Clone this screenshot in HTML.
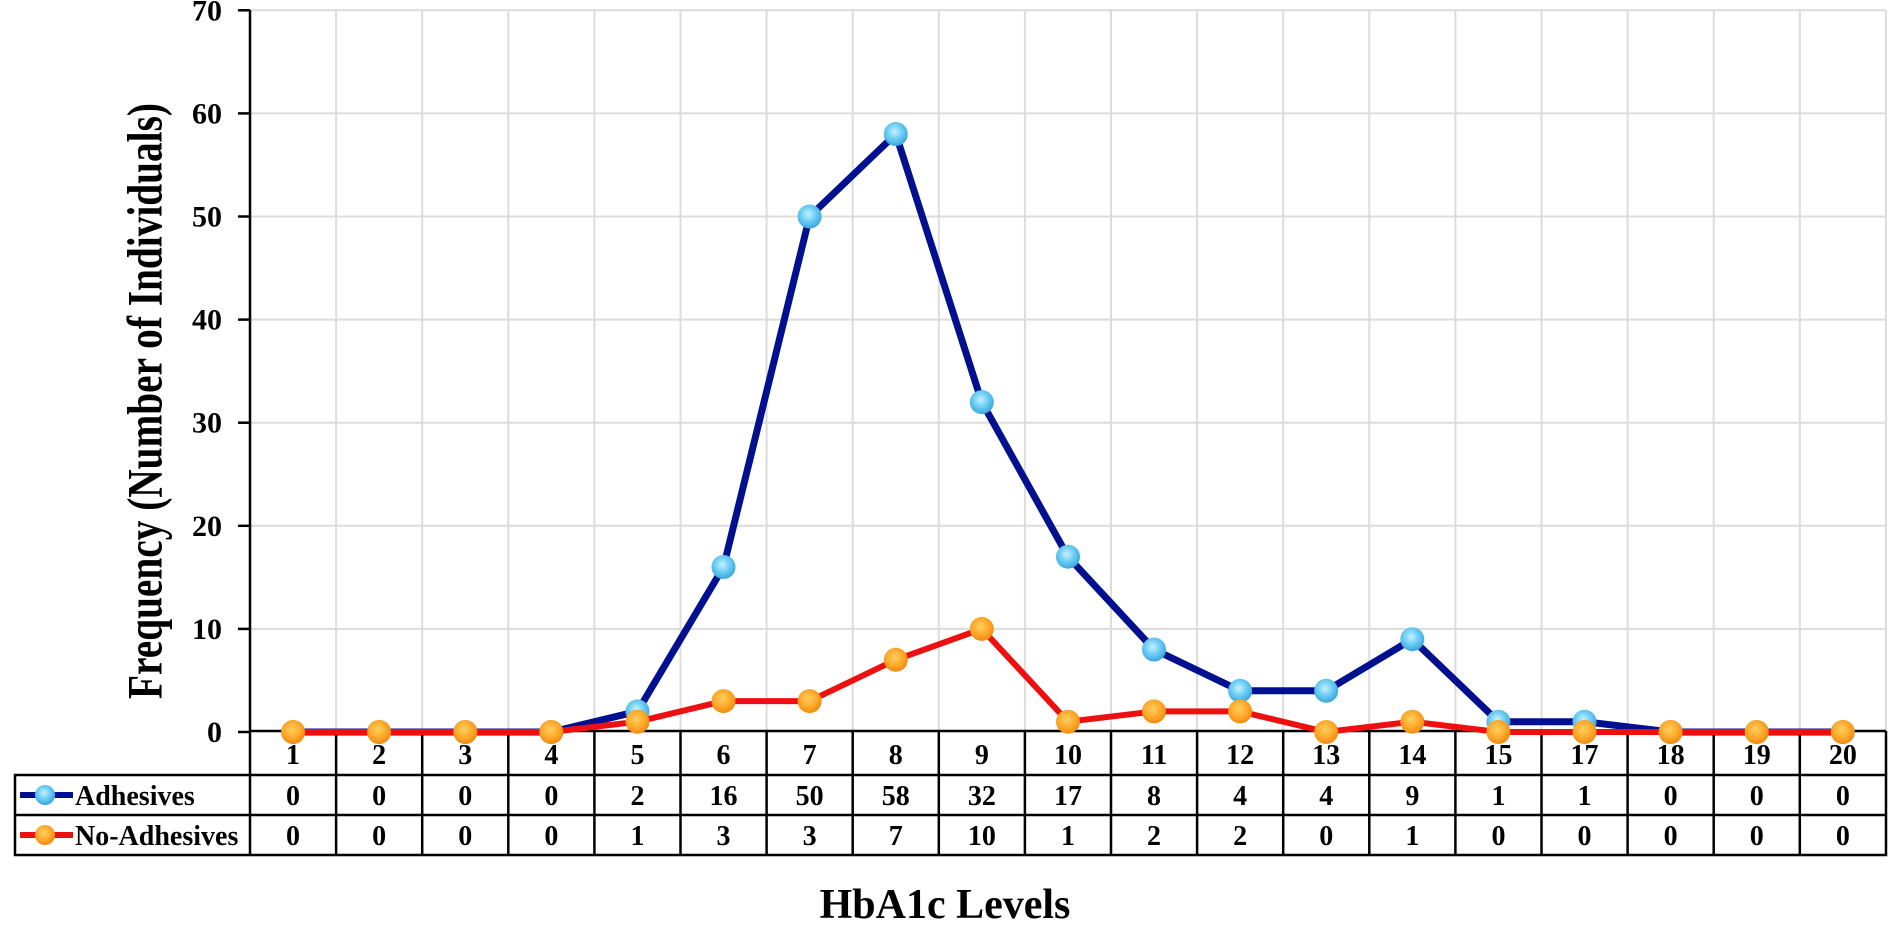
<!DOCTYPE html>
<html><head><meta charset="utf-8"><style>
html,body{margin:0;padding:0;background:#fff;}
svg{display:block;}
text{font-family:"Liberation Serif",serif;font-weight:bold;fill:#000;}
</style></head><body>
<svg width="1890" height="930" viewBox="0 0 1890 930" xmlns="http://www.w3.org/2000/svg">
<defs>
<radialGradient id="gb" cx="45%" cy="40%" r="60%"><stop offset="0" stop-color="#c8f0ff"/><stop offset="0.5" stop-color="#6fcff5"/><stop offset="1" stop-color="#3aa6dc"/></radialGradient>
<radialGradient id="go" cx="45%" cy="40%" r="60%"><stop offset="0" stop-color="#ffd060"/><stop offset="0.6" stop-color="#ffa82a"/><stop offset="1" stop-color="#f08a10"/></radialGradient>
</defs>
<g id="grid" stroke="#dcdcdc" stroke-width="2"></g>
<line x1="250" y1="10" x2="250" y2="732" stroke="#000" stroke-width="2.5"/>
<g id="yt"></g>
<text x="150" y="401" font-size="50" text-anchor="middle" textLength="596" lengthAdjust="spacingAndGlyphs" transform="rotate(-90 150 401)" dominant-baseline="middle">Frequency (Number of Individuals)</text>
<g id="tbl" stroke="#000" stroke-width="2.5" fill="none"></g>
<g id="tt"></g>
<g id="series"></g>
<text x="945" y="918" font-size="42" text-anchor="middle">HbA1c Levels</text>
<line x1="20" y1="795" x2="73" y2="795" stroke="#00108f" stroke-width="6"/>
<circle cx="45" cy="795" r="10" fill="url(#gb)"/>
<text x="75" y="805" font-size="28">Adhesives</text>
<line x1="20" y1="835" x2="73" y2="835" stroke="#ee1010" stroke-width="6"/>
<circle cx="45" cy="835" r="10" fill="url(#go)"/>
<text x="75" y="845" font-size="28">No-Adhesives</text>
</svg>
<script>
const NS="http://www.w3.org/2000/svg";
function el(p,t,a,txt){const e=document.createElementNS(NS,t);for(const k in a)e.setAttribute(k,a[k]);if(txt!==undefined)e.textContent=txt;document.getElementById(p).appendChild(e);return e;}
const x0=250,w=86.1,y0=732,s=10.31;
const cats=[1,2,3,4,5,6,7,8,9,10,11,12,13,14,15,17,18,19,20];
const A=[0,0,0,0,2,16,50,58,32,17,8,4,4,9,1,1,0,0,0];
const N=[0,0,0,0,1,3,3,7,10,1,2,2,0,1,0,0,0,0,0];
for(let v=10;v<=70;v+=10){const y=y0-v*s;el('grid','line',{x1:x0,y1:y,x2:1886,y2:y});}
for(let k=1;k<=19;k++){const x=x0+k*w;el('grid','line',{x1:x,y1:10,x2:x,y2:y0});}
for(let v=0;v<=70;v+=10){const y=y0-v*s;el('yt','line',{x1:238,y1:y,x2:250,y2:y,stroke:'#000','stroke-width':2.5});el('yt','text',{x:222,y:y+10,'font-size':30,'text-anchor':'end'},String(v));}
// table
el('tbl','rect',{x:15,y:775,width:1871,height:80});
el('tbl','line',{x1:250,y1:731,x2:1886,y2:731});
el('tbl','line',{x1:1886,y1:731,x2:1886,y2:775});
el('tbl','line',{x1:15,y1:815,x2:1886,y2:815});
for(let k=0;k<19;k++){const x=x0+k*w;el('tbl','line',{x1:x,y1:731,x2:x,y2:855});}
cats.forEach((c,i)=>{const cx=x0+w/2+i*w;
el('tt','text',{x:cx,y:764,'font-size':28,'text-anchor':'middle'},String(c));
el('tt','text',{x:cx,y:805,'font-size':28,'text-anchor':'middle'},String(A[i]));
el('tt','text',{x:cx,y:845,'font-size':28,'text-anchor':'middle'},String(N[i]));});
function series(d,col,grad,sw){const pts=d.map((v,i)=>[(x0+w/2+i*w).toFixed(1),(y0-v*s).toFixed(1)]);
el('series','polyline',{points:pts.map(p=>p.join(',')).join(' '),fill:'none',stroke:col,'stroke-width':sw,'stroke-linejoin':'round'});
return pts;}
const pa=series(A,'#00108f','url(#gb)',7);
pa.forEach(p=>el('series','circle',{cx:p[0],cy:p[1],r:12,fill:'url(#gb)'}));
const pn=series(N,'#ee1010','url(#go)',6);
pn.forEach(p=>el('series','circle',{cx:p[0],cy:p[1],r:12,fill:'url(#go)'}));
</script>
</body></html>
